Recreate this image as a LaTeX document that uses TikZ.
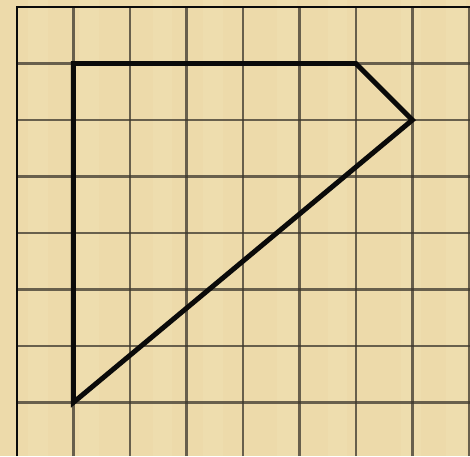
\documentclass[tikz,border=0pt]{standalone}
\usepackage{tikz}
\usepackage{xcolor}
\definecolor{papyrus}{RGB}{237, 218, 170}
\definecolor{papyruslight}{RGB}{243, 228, 186}
\definecolor{gridgray}{RGB}{60, 55, 45}
\definecolor{shapeblack}{RGB}{10, 10, 10}

\begin{document}
\begin{tikzpicture}[
    x=1cm, y=1cm,
    gridline/.style={draw=gridgray, opacity=0.75, line width=1.3pt},
    borderline/.style={draw=shapeblack, line width=1.2pt},
    figureline/.style={draw=shapeblack, line width=2.5pt, line join=miter},
]

% Background
\fill[papyrus] (-0.30, 0.05) rectangle (8.02, 8.124);
\useasboundingbox (-0.30, 0.05) rectangle (8.02, 8.124);
\foreach \s in {0.2, 1.1, 2.4, 3.3, 4.6, 5.5, 6.8, 7.6} {
    \fill[papyruslight, opacity=0.3] (\s, 0.05) rectangle (\s+0.35, 8.124);
}

% Grid
\foreach \i in {1,...,7} {
    \draw[gridline] (\i, 0.05) -- (\i, 8);
    \draw[gridline] (0, 8-\i) -- (8.02, 8-\i);
}
\draw[gridline] (8, 0.05) -- (8, 8);
\draw[borderline] (0, 0.05) -- (0, 8) -- (8.02, 8);

% Figure
\coordinate (a) at (1, 7);
\coordinate (b) at (6, 7);
\coordinate (c) at (7, 6);
\coordinate (d) at (1, 1);
\draw[figureline] (a) -- (b) -- (c) -- (d) -- cycle;

\end{tikzpicture}
\end{document}
